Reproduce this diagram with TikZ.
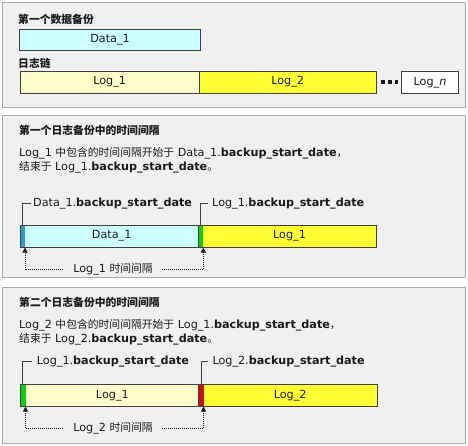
\documentclass[tikz,border=0pt]{standalone}
\usepackage{fontspec}
\setmainfont{DejaVu Sans}
\newfontfamily\cjk{Noto Sans CJK SC}
\usetikzlibrary{arrows.meta}
\definecolor{panelfill}{HTML}{F0F0F0}
\definecolor{panelline}{HTML}{AAAAAA}
\definecolor{boxline}{HTML}{404040}
\definecolor{cyanfill}{HTML}{CCFFFF}
\definecolor{paleyellow}{HTML}{FFFFCC}
\definecolor{brightyellow}{HTML}{FFFF33}
\definecolor{stripblue}{HTML}{3399CC}
\definecolor{stripgreen}{HTML}{11CC11}
\definecolor{stripred}{HTML}{CC1111}
\definecolor{txt}{HTML}{1A1A1A}
\newcommand\zh[1]{{\cjk\fontsize{10.8}{12}\selectfont #1}}
\newcommand\zhb[1]{{\cjk\bfseries\fontsize{10.8}{12}\selectfont #1}}
\newcommand\lat{\fontsize{11.2}{13}\selectfont}
\tikzset{
  panel/.style={draw=panelline, fill=panelfill, line width=1pt},
  seg/.style={rectangle, inner sep=0pt, anchor=north west, minimum height=21.7pt, text=txt, font=\lat},
  outline/.style={draw=boxline, line width=1pt},
  lbl/.style={anchor=west, inner sep=0pt, text=txt, font=\lat},
  bracket/.style={draw=boxline, line width=0.8pt},
  dotline/.style={draw=txt, line width=1pt, dash pattern=on 1pt off 1pt},
  uparrow/.style={dotline, -{Triangle[width=5pt,length=5pt]}},
}
\begin{document}
\begin{tikzpicture}[x=1pt,y=-1pt]
\useasboundingbox (0,0) rectangle (468,445);
\fill[white] (0,0) rectangle (468,445);

% ---------- Panel 1 ----------
\draw[panel] (2.5,2.5) rectangle (465.5,107);
\node[lbl] (t1) at (18,19) {\zhb{第一个数据备份}};
\node[seg, fill=cyanfill, draw=boxline, line width=1pt, minimum width=181pt] (d1) at (19,28.5) {Data\_1};
\node[lbl] (t2) at (18,63) {\zhb{日志链}};
\node[seg, fill=paleyellow, minimum width=179pt] (c1) at (20,71) {Log\_1};
\node[seg, fill=brightyellow, minimum width=177pt] (c2) at (199,71) {Log\_2};
\draw[outline] (c1.north west) rectangle (c2.south east);
\draw[outline] (c1.north east) -- (c1.south east);
\node[seg, fill=white, draw=boxline, line width=1pt, minimum width=57pt] (cn) at (401,71) {Log\_\textit{n}};
\foreach \x in {381.3,388,394.7}
  \fill[txt] (\x,80) rectangle ++(3.5,3.5);

% ---------- Panel 2 ----------
\draw[panel] (2.5,115) rectangle (465.5,277.5);
\node[lbl] (h2) at (19,130.7) {\zhb{第一个日志备份中的时间间隔}};
\node[lbl] (p2a) at (19,153.3) {Log\_1 \zh{中包含的时间间隔开始于} Data\_1.\textbf{backup\_start\_date}\zh{，}};
\node[lbl] (p2b) at (19,166.8) {\zh{结束于} Log\_1.\textbf{backup\_start\_date}\zh{。}};

\node[seg, fill=stripblue, minimum width=4.3pt] (b2s) at (20.7,225) {};
\node[seg, fill=cyanfill, minimum width=173pt] (b2d) at (25,225) {Data\_1};
\node[seg, fill=stripgreen, minimum width=5pt] (b2g) at (198,225) {};
\node[seg, fill=brightyellow, minimum width=172.7pt] (b2l) at (203,225) {Log\_1};
\draw[outline] (b2s.north west) rectangle (b2l.south east);
\draw[outline] (b2d.north east) -- (b2d.south east);

\coordinate (k2a) at (22.7,203.5);
\coordinate (k2b) at (200.7,203.5);
\draw[bracket] (22.7,225) -- (k2a) -- ++(8,0);
\draw[bracket] (200.7,225) -- (k2b) -- ++(7.5,0);
\node[lbl] (l2a) at (33,204) {Data\_1.\textbf{backup\_start\_date}};
\node[lbl] (l2b) at (212,204) {Log\_1.\textbf{backup\_start\_date}};

\node[text=txt, inner sep=0pt, font=\lat] (i2) at (113,269.5) {Log\_1 \zh{时间间隔}};
\coordinate (i2l) at (63,269.5);
\coordinate (i2r) at (162,269.5);
\draw[uparrow] (i2l) -- (25,269.5) -- (25,247.5);
\draw[uparrow] (i2r) -- (203.3,269.5) -- (203.3,247.5);

% ---------- Panel 3 ----------
\draw[panel] (2.5,287) rectangle (465.5,443);
\node[lbl] (h3) at (19,302.7) {\zhb{第二个日志备份中的时间间隔}};
\node[lbl] (p3a) at (19,325) {Log\_2 \zh{中包含的时间间隔开始于} Log\_1.\textbf{backup\_start\_date}\zh{，}};
\node[lbl] (p3b) at (19,339) {\zh{结束于} Log\_2.\textbf{backup\_start\_date}\zh{。}};

\node[seg, fill=stripgreen, minimum width=5.3pt] (b3g) at (20.7,384.2) {};
\node[seg, fill=paleyellow, minimum width=172.3pt] (b3a) at (26,384.2) {Log\_1};
\node[seg, fill=stripred, minimum width=5pt] (b3r) at (198.3,384.2) {};
\node[seg, fill=brightyellow, minimum width=173.4pt] (b3b) at (203.3,384.2) {Log\_2};
\draw[outline] (b3g.north west) rectangle (b3b.south east);
\draw[outline] (b3a.north east) -- (b3a.south east);

\coordinate (k3a) at (22.7,361.7);
\coordinate (k3b) at (201,361.7);
\draw[bracket] (22.7,384.2) -- (k3a) -- ++(9,0);
\draw[bracket] (201,384.2) -- (k3b) -- ++(7.3,0);
\node[lbl] (l3a) at (36.7,362) {Log\_1.\textbf{backup\_start\_date}};
\node[lbl] (l3b) at (212.3,362) {Log\_2.\textbf{backup\_start\_date}};

\node[text=txt, inner sep=0pt, font=\lat] (i3) at (113,428.3) {Log\_2 \zh{时间间隔}};
\coordinate (i3l) at (63,428.3);
\coordinate (i3r) at (162,428.3);
\draw[uparrow] (i3l) -- (25.5,428.3) -- (25.5,406.5);
\draw[uparrow] (i3r) -- (203.5,428.3) -- (203.5,406.5);
\end{tikzpicture}
\end{document}
